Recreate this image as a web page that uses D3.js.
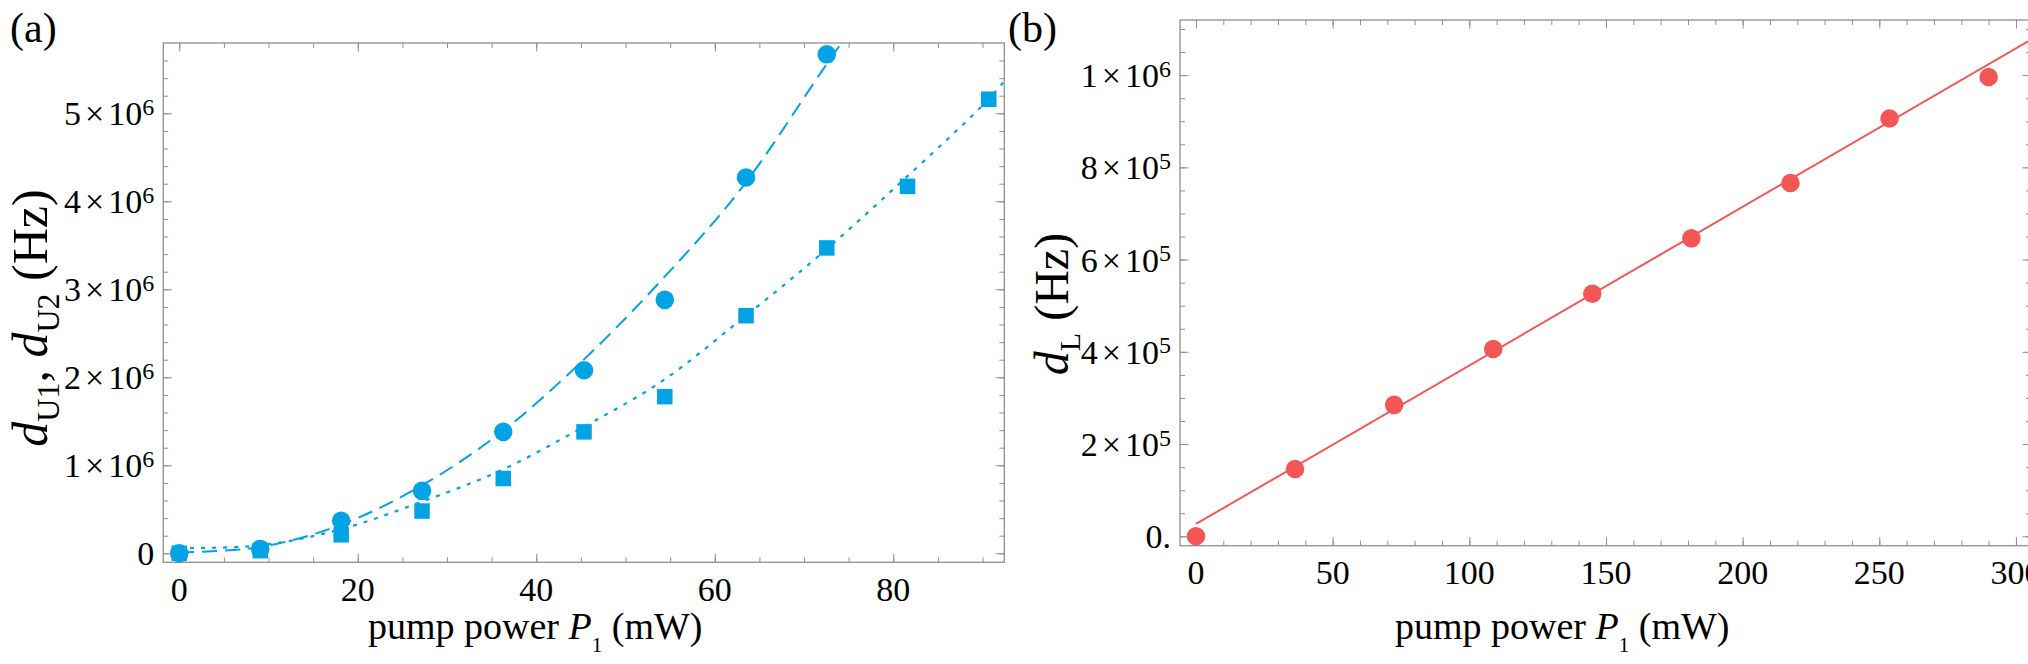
<!DOCTYPE html>
<html>
<head>
<meta charset="utf-8">
<script src="https://cdn.jsdelivr.net/npm/d3@7"></script>
<style>
  body { margin: 0; background: #fff; }
  svg { display: block; font-family: "Liberation Serif", "Times New Roman", serif; }
</style>
</head>
<body>
<svg id="chart" width="2028" height="664"></svg>
<script>
// panel (a): pump power P1 (mW) against d_U1 (circles) and d_U2 (squares), Hz
var powerU = [0, 9.07, 18.14, 27.2, 36.3, 45.35, 54.4, 63.5, 72.55, 81.6, 90.7];
var dU1 = [0, 0.05e6, 0.37e6, 0.71e6, 1.38e6, 2.08e6, 2.88e6, 4.27e6, 5.67e6];
var dU2 = [0, 0.03e6, 0.21e6, 0.48e6, 0.85e6, 1.38e6, 1.78e6, 2.70e6, 3.47e6, 4.17e6, 5.16e6];
// fitted curves
var fitU1P = [0, 9, 18, 27, 36, 45, 54, 63, 72, 74.2];
var fitU1 = [0.01e6, 0.07e6, 0.32e6, 0.76e6, 1.37e6, 2.17e6, 3.10e6, 4.15e6, 5.48e6, 5.80e6];
var fitU2P = [0, 9, 18, 27, 36, 45, 54, 63, 72, 81, 90, 92.4];
var fitU2 = [0.06e6, 0.09e6, 0.27e6, 0.58e6, 0.94e6, 1.42e6, 1.95e6, 2.66e6, 3.41e6, 4.23e6, 5.09e6, 5.36e6];
var ticksUx = [0, 20, 40, 60, 80];
var ticksUy = [0, 1e6, 2e6, 3e6, 4e6, 5e6];

// panel (b): pump power P1 (mW) against d_L (Hz)
var powerL = [0, 36.25, 72.5, 108.75, 145, 181.25, 217.5, 253.75, 290];
var dL = [0, 146e3, 285e3, 406e3, 526e3, 646e3, 766e3, 906e3, 996e3];
var fitLP = [0, 305.5];
var fitL = [26.7e3, 1077e3];
var ticksLx = [0, 50, 100, 150, 200, 250, 300];
var ticksLy = [0, 2e5, 4e5, 6e5, 8e5, 1e6];

var blue = "#00a3e4";
var red = "#f45656";
var frameColor = "#8f8f8f";

var svg = d3.select("#chart");

function sciLabel(text, d, zero) {
    if (d === 0) { text.text(zero); return; }
    var e = Math.floor(Math.log10(d));
    var m = Math.round(d / Math.pow(10, e));
    text.append("tspan").text(m);
    text.append("tspan").attr("dx", 4).text("\u00d7");
    text.append("tspan").attr("dx", 4).text("10");
    text.append("tspan").attr("dy", -10.5).attr("font-size", 24).text(e);
}

function panel(cfg) {
    var g = svg.append("g");
    var x = d3.scaleLinear().domain(cfg.xDomain).range([cfg.left, cfg.right]);
    var y = d3.scaleLinear().domain(cfg.yDomain).range([cfg.bottom, cfg.top]);

    function tickRow(axisFn, scale, values, len, tx, ty) {
        g.append("g")
            .attr("transform", `translate(${tx},${ty})`)
            .call(axisFn(scale).tickValues(values).tickSize(-len).tickFormat(""))
            .call(s => s.select(".domain").remove())
            .selectAll("line")
            .attr("stroke", frameColor)
            .attr("stroke-width", 1);
    }
    var xMinor = cfg.xMinor.filter(v => v >= cfg.xDomain[0] && v <= cfg.xDomain[1]);
    var yMinor = cfg.yMinor.filter(v => v >= cfg.yDomain[0] && v <= cfg.yDomain[1]);
    var xMajor = cfg.xTicks.filter(v => v <= cfg.xDomain[1]);
    var yMajor = cfg.yTicks;

    tickRow(d3.axisBottom, x, xMinor, 5, 0, cfg.bottom);
    tickRow(d3.axisBottom, x, xMajor, 8.5, 0, cfg.bottom);
    tickRow(d3.axisTop, x, xMinor, 5, 0, cfg.top);
    tickRow(d3.axisTop, x, xMajor, 8.5, 0, cfg.top);
    tickRow(d3.axisLeft, y, yMinor, 5, cfg.left, 0);
    tickRow(d3.axisLeft, y, yMajor, 8.5, cfg.left, 0);
    tickRow(d3.axisRight, y, yMinor, 5, cfg.right, 0);
    tickRow(d3.axisRight, y, yMajor, 8.5, cfg.right, 0);

    g.append("rect")
        .attr("x", cfg.left).attr("y", cfg.top)
        .attr("width", cfg.right - cfg.left).attr("height", cfg.bottom - cfg.top)
        .attr("fill", "none")
        .attr("stroke", frameColor)
        .attr("stroke-width", 1.3);

    g.append("clipPath").attr("id", cfg.id + "-clip")
        .append("rect")
        .attr("x", cfg.left).attr("y", cfg.top)
        .attr("width", cfg.right - cfg.left).attr("height", cfg.bottom - cfg.top);

    // tick labels
    g.append("g").selectAll("text")
        .data(cfg.xTicks)
        .join("text")
        .attr("x", d => x(d))
        .attr("y", cfg.bottom + 38.4)
        .attr("text-anchor", "middle")
        .attr("font-size", 34)
        .text(d => d);

    g.append("g").selectAll("text")
        .data(cfg.yTicks)
        .join("text")
        .attr("x", cfg.left - 9)
        .attr("y", d => y(d) + 12)
        .attr("text-anchor", "end")
        .attr("font-size", 34)
        .each(function (d) { sciLabel(d3.select(this), d, cfg.zeroLabel); });

    return { g: g, x: x, y: y };
}

// ---- panel (a)
var a = panel({
    id: "pa",
    left: 163.3, right: 1004.3, top: 43, bottom: 562.3,
    xDomain: [-1.79, 92.44], yDomain: [-0.1023e6, 5.799e6],
    xTicks: ticksUx, yTicks: ticksUy,
    xMinor: d3.range(0, 95, 5), yMinor: d3.range(0, 5.9e6, 0.2e6),
    zeroLabel: "0"
});

var lineA = d3.line().curve(d3.curveCatmullRom.alpha(0.5));
var curvesA = a.g.append("g").attr("clip-path", "url(#pa-clip)");
curvesA.append("path")
    .attr("d", lineA(fitU1P.map((p, i) => [a.x(p), a.y(fitU1[i])])))
    .attr("fill", "none")
    .attr("stroke", blue)
    .attr("stroke-width", 2)
    .attr("stroke-dasharray", "15,8");
curvesA.append("path")
    .attr("d", lineA(fitU2P.map((p, i) => [a.x(p), a.y(fitU2[i])])))
    .attr("fill", "none")
    .attr("stroke", blue)
    .attr("stroke-width", 2.2)
    .attr("stroke-dasharray", "4,7");

a.g.append("g").selectAll("path")
    .data(dU2)
    .join("path")
    .attr("transform", (d, i) => `translate(${a.x(powerU[i])},${a.y(d)})`)
    .attr("d", d3.symbol(d3.symbolSquare, 240))
    .attr("fill", blue);

a.g.append("g").selectAll("path")
    .data(dU1)
    .join("path")
    .attr("transform", (d, i) => `translate(${a.x(powerU[i])},${a.y(d)})`)
    .attr("d", d3.symbol(d3.symbolCircle, 270))
    .attr("fill", blue);

// ---- panel (b)
var b = panel({
    id: "pb",
    left: 1180, right: 2031, top: 20, bottom: 545.7,
    xDomain: [-5.85, 305.5], yDomain: [-0.0204e6, 1.1195e6],
    xTicks: ticksLx, yTicks: ticksLy,
    xMinor: d3.range(0, 310, 10), yMinor: d3.range(0, 1.15e6, 5e4),
    zeroLabel: "0."
});

b.g.append("g").attr("clip-path", "url(#pb-clip)")
    .append("path")
    .attr("d", d3.line()(fitLP.map((p, i) => [b.x(p), b.y(fitL[i])])))
    .attr("fill", "none")
    .attr("stroke", red)
    .attr("stroke-width", 2);

b.g.append("g").selectAll("path")
    .data(dL)
    .join("path")
    .attr("transform", (d, i) => `translate(${b.x(powerL[i])},${b.y(d)})`)
    .attr("d", d3.symbol(d3.symbolCircle, 270))
    .attr("fill", red);

// ---- axis labels
function xLabel(x0) {
    var t = svg.append("text")
        .attr("x", x0).attr("y", 639)
        .attr("font-size", 38);
    t.append("tspan").text("pump power ");
    t.append("tspan").attr("font-style", "italic").text("P");
    t.append("tspan").attr("font-size", 21).attr("dy", 13).text("1");
    t.append("tspan").attr("dy", -13).text(" (mW)");
}
xLabel(368);
xLabel(1395);

var la = svg.append("text")
    .attr("transform", "translate(47,318) rotate(-90)")
    .attr("text-anchor", "middle")
    .attr("font-size", 50);
la.append("tspan").attr("font-style", "italic").text("d");
la.append("tspan").attr("font-size", 32).attr("dy", 12).text("U1");
la.append("tspan").attr("dy", -12).text(", ");
la.append("tspan").attr("font-style", "italic").text("d");
la.append("tspan").attr("font-size", 32).attr("dy", 12).text("U2");
la.append("tspan").attr("dy", -12).text(" (Hz)");

var lb = svg.append("text")
    .attr("transform", "translate(1068,304) rotate(-90)")
    .attr("text-anchor", "middle")
    .attr("font-size", 48);
lb.append("tspan").attr("font-style", "italic").text("d");
lb.append("tspan").attr("font-size", 30).attr("dy", 12).text("L");
lb.append("tspan").attr("dy", -12).text(" (Hz)");

// panel letters
svg.append("text").attr("x", 10).attr("y", 42).attr("font-size", 42).text("(a)");
svg.append("text").attr("x", 1008).attr("y", 42).attr("font-size", 42).text("(b)");
</script>
</body>
</html>
